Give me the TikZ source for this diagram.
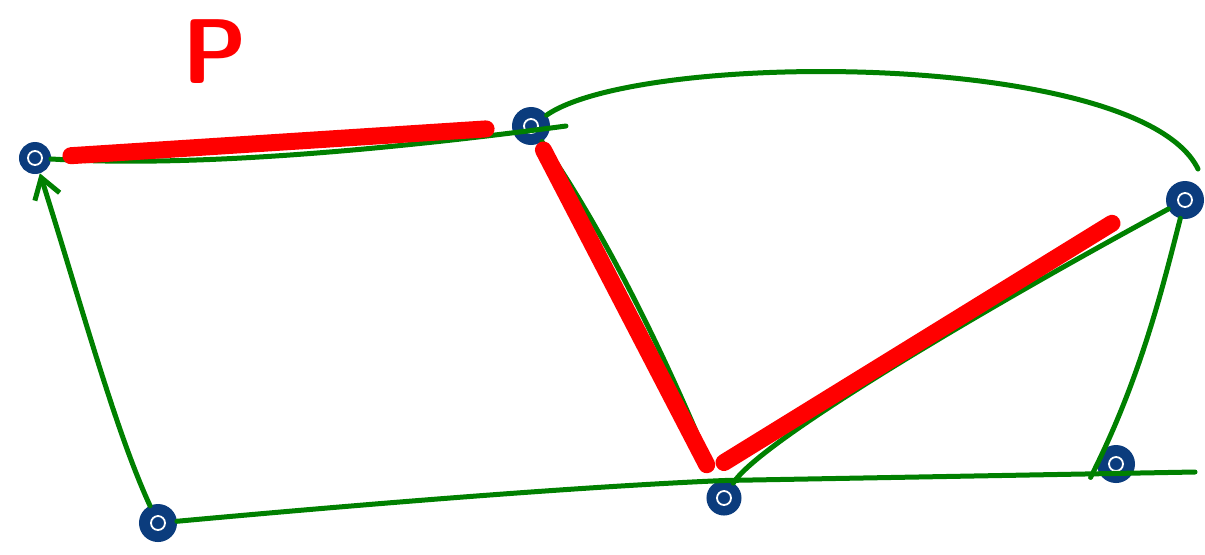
\documentclass[tikz,border=0pt]{standalone}
\usepackage{tikz}
\usetikzlibrary{arrows.meta}

\definecolor{vblue}{HTML}{0B3C7D}
\definecolor{egreen}{RGB}{0,128,0}

\begin{document}
\begin{tikzpicture}[
  x=0.5pt, y=-0.5pt,
  vtx/.style={circle, draw=vblue, fill=vblue, line width=2.5pt, minimum size=16.5pt, inner sep=0pt,
    path picture={\draw[white, line width=0.9pt] (path picture bounding box.center) circle (3.5pt);}},
  gedge/.style={draw=egreen, line width=2.5pt, line cap=round},
  hilite/.style={draw=red, line width=8.5pt, line cap=round},
  arrow/.style={-{Straight Barb[length=10pt,width=13pt]}}
]
\useasboundingbox (0,0) rectangle (1205,554);

% vertices
\node[vtx, minimum size=13.5pt] (v1) at (35,158) {};
\node[vtx] (v2) at (531,126) {};
\node[vtx] (v3) at (1185,200) {};
\node[vtx, minimum size=15pt] (v4) at (724,498) {};
\node[vtx] (v5) at (1116,464) {};
\node[vtx] (v6) at (158,523) {};
\coordinate (rend) at (1195,472);

% label of the path
\node[text=red, font=\fontsize{46}{46}\selectfont\sffamily\bfseries] (plabel) at (215,52) {P};

% green edges
\draw[gedge, arrow] (v6) .. controls (115,430) and (80,300) .. (v1);
\draw[gedge] (v1) .. controls (200,168) and (400,148) .. ([xshift=8pt]v2.east);
\draw[gedge] (v2) .. controls (640,50) and (1140,50) .. ([shift={(6.5pt,6pt)}]v3.north);
\draw[gedge, shorten >=12pt] (v2) .. controls (590,210) and (650,320) .. (v4);
\draw[gedge] (v4) .. controls (760,440) and (1000,300) .. (v3);
\draw[gedge] (v3) .. controls (1162,290) and (1140,380) .. ([xshift=-6pt]v5.south west);
\draw[gedge] (v6) .. controls (300,510) and (550,488) .. (v4.north) -- (rend);

% highlighted path P
\draw[hilite, shorten <=10pt, shorten >=13pt] (v1) -- (v2);
\draw[hilite, shorten <=4pt, shorten >=10pt] (v2) -- (v4);
\draw[hilite, shorten >=35pt] ([yshift=9pt]v4.north) -- (v3.north west);
\end{tikzpicture}
\end{document}
